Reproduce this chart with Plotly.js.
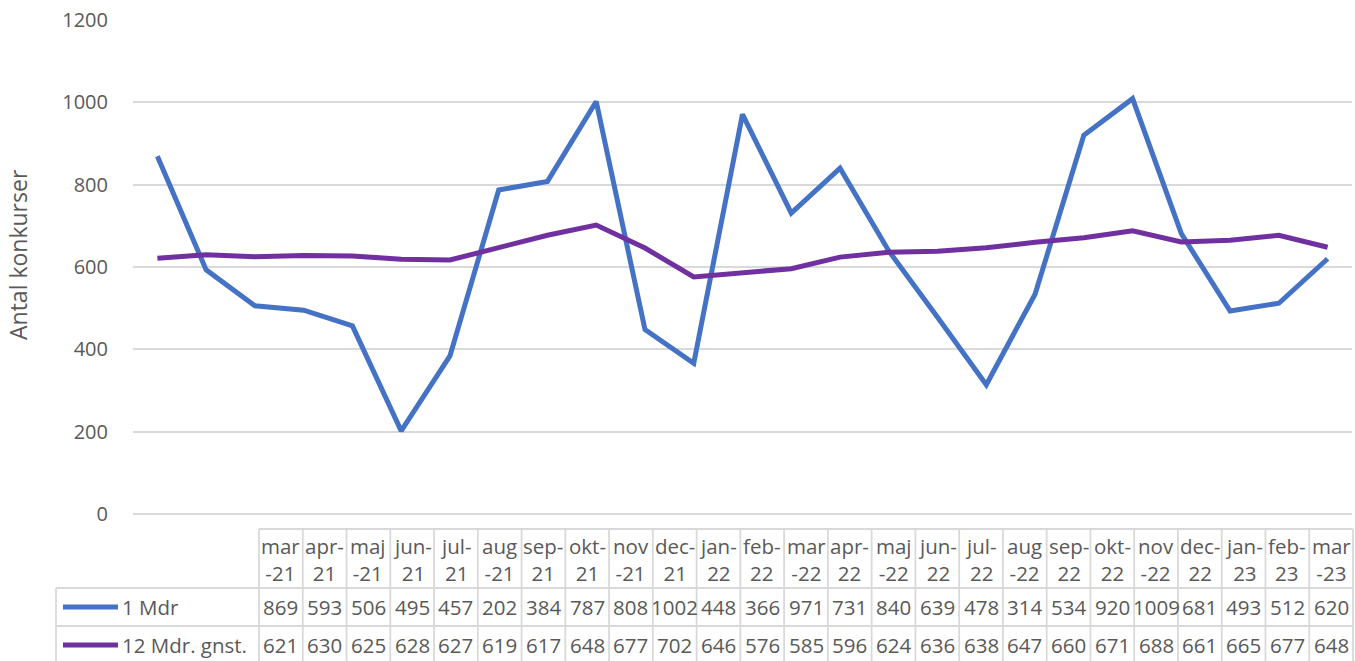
<!DOCTYPE html>
<html>
<head>
<meta charset="utf-8">
<script src="https://cdn.plot.ly/plotly-3.0.1.min.js"></script>
<style>html,body{margin:0;padding:0;background:#fff;}#chart{width:1355px;height:661px;}</style>
</head>
<body>
<div id="chart"></div>
<script>
// ---- data ----
const months = ["mar-21","apr-21","maj-21","jun-21","jul-21","aug-21","sep-21","okt-21","nov-21","dec-21","jan-22","feb-22","mar-22","apr-22","maj-22","jun-22","jul-22","aug-22","sep-22","okt-22","nov-22","dec-22","jan-23","feb-23","mar-23"];
const oneMonth = [869,593,506,495,457,202,384,787,808,1002,448,366,971,731,840,639,478,314,534,920,1009,681,493,512,620];
const twelveMonthAvg = [621,630,625,628,627,619,617,648,677,702,646,576,585,596,624,636,638,647,660,671,688,661,665,677,648];
const seriesNames = ["1 Mdr","12 Mdr. gnst."];
const yTicks = [0,200,400,600,800,1000,1200];
const yTitle = "Antal konkurser";

// ---- layout constants ----
const W = 1355, H = 661;
const mL = 133, mR = 3, mT = 20, mB = 147;
const plotW = W - mL - mR, plotH = H - mT - mB;
const px = x => (x - mL) / plotW;
const py = y => (H - mB - y) / plotH;
const FONT = "Open Sans, Noto Sans, sans-serif";
const TXT = "#595959";
const GRID = "#d9d9d9";
const colors = ["#4472C4", "#7030A0"];

const xIdx = months.map((m, i) => i);

const traces = [
  {x: xIdx, y: oneMonth, name: seriesNames[0], type: "scatter", mode: "lines",
   line: {color: colors[0], width: 5}, hoverinfo: "skip"},
  {x: xIdx, y: twelveMonthAvg, name: seriesNames[1], type: "scatter", mode: "lines",
   line: {color: colors[1], width: 5}, hoverinfo: "skip"}
];

// ---- data table geometry ----
const tL = 259, tR = 1353, rowLegendL = 56;
const colW = (tR - tL) / months.length;
const yHeadTop = 529, yHeadBot = 588, yRow1Bot = 626, yRow2Bot = 664;
const shapes = [];
const annotations = [];
const lineShape = (x0, y0, x1, y1, color, width) => ({
  type: "line", xref: "paper", yref: "paper",
  x0: px(x0), y0: py(y0), x1: px(x1), y1: py(y1),
  line: {color: color, width: width}, layer: "above"
});
// horizontal borders
shapes.push(lineShape(tL, yHeadTop, tR, yHeadTop, GRID, 1.8));
shapes.push(lineShape(rowLegendL, yHeadBot, tR, yHeadBot, GRID, 1.8));
shapes.push(lineShape(rowLegendL, yRow1Bot, tR, yRow1Bot, GRID, 1.8));
shapes.push(lineShape(rowLegendL, yRow2Bot, tR, yRow2Bot, GRID, 1.8));
// vertical borders
shapes.push(lineShape(rowLegendL, yHeadBot, rowLegendL, yRow2Bot, GRID, 1.8));
for (let i = 0; i <= months.length; i++) {
  const x = tL + i * colW;
  shapes.push(lineShape(x, yHeadTop, x, yRow2Bot, GRID, 1.8));
}
// header labels (Excel-style wrapping)
const breakBefore = ["mar","maj","aug","nov"];
months.forEach((m, i) => {
  const [mon, yr] = m.split("-");
  const txt = breakBefore.includes(mon) ? mon + "<br>-" + yr : mon + "-<br>" + yr;
  annotations.push({xref: "paper", yref: "paper", x: px(tL + colW * (i + 0.5)), y: py(559),
    text: txt, showarrow: false, xanchor: "center", yanchor: "middle",
    font: {family: FONT, size: 20.5, color: TXT}});
});
// rows
const rows = [oneMonth, twelveMonthAvg];
const rowY = [607, 645];
rows.forEach((vals, r) => {
  shapes.push(lineShape(63, rowY[r], 118, rowY[r], colors[r], 5));
  annotations.push({xref: "paper", yref: "paper", x: px(120), y: py(rowY[r]),
    text: seriesNames[r], showarrow: false, xanchor: "left", yanchor: "middle",
    font: {family: FONT, size: 20.5, color: TXT}});
  vals.forEach((v, i) => {
    annotations.push({xref: "paper", yref: "paper", x: px(tL + colW * (i + 0.5)), y: py(rowY[r]),
      text: String(v), showarrow: false, xanchor: "center", yanchor: "middle",
      font: {family: FONT, size: 20.5, color: TXT}});
  });
});
// y axis title
annotations.push({xref: "paper", yref: "paper", x: px(18), y: py(254), text: yTitle,
  textangle: -90, showarrow: false, xanchor: "center", yanchor: "middle",
  font: {family: FONT, size: 23, color: TXT}});

const layout = {
  width: W, height: H,
  margin: {l: mL, r: mR, t: mT, b: mB},
  paper_bgcolor: "#fff", plot_bgcolor: "#fff",
  showlegend: false,
  font: {family: FONT, color: TXT},
  xaxis: {range: [-0.5, months.length - 0.5], showticklabels: false, showgrid: false,
    zeroline: false, showline: false, ticks: "", fixedrange: true},
  yaxis: {range: [0, 1200], tickvals: yTicks, ticktext: yTicks.map(String),
    showgrid: true, gridcolor: GRID, gridwidth: 1.8,
    zeroline: true, zerolinecolor: GRID, zerolinewidth: 1.8,
    showline: false, ticks: "", ticklabelstandoff: 24,
    tickfont: {family: FONT, size: 20, color: TXT}, fixedrange: true},
  shapes: shapes,
  annotations: annotations
};

Plotly.newPlot("chart", traces, layout, {displayModeBar: false, staticPlot: true});
</script>
</body>
</html>
